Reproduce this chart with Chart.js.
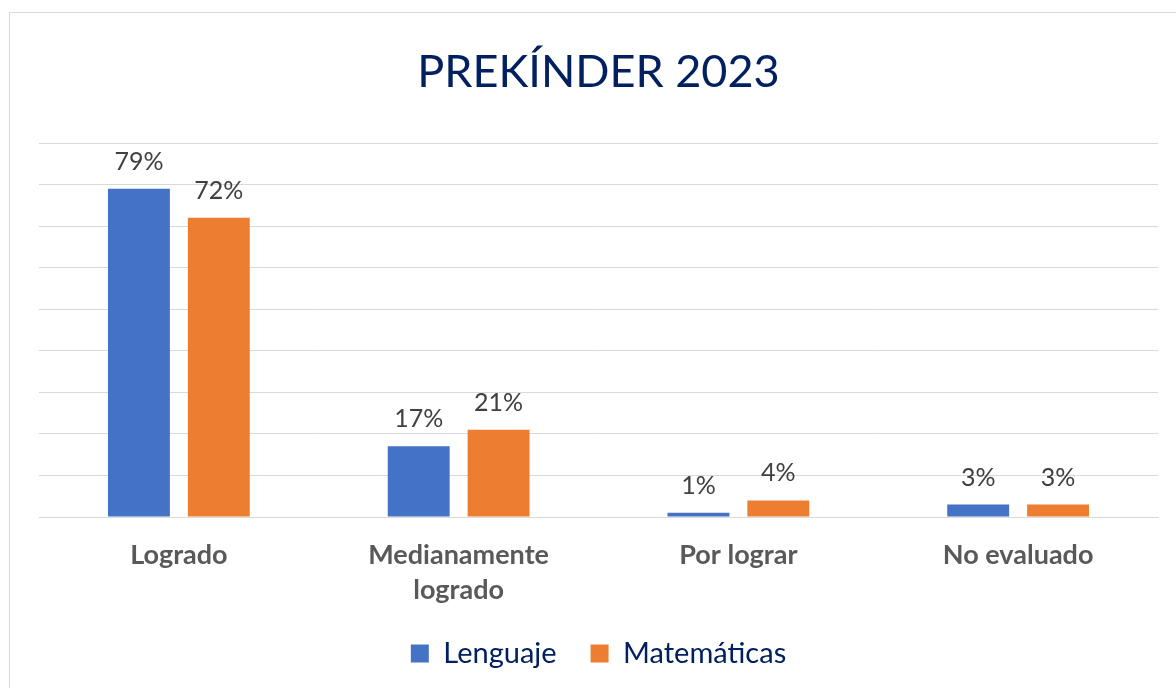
<!DOCTYPE html>
<html>
<head>
<meta charset="utf-8">
<script src="https://cdn.jsdelivr.net/npm/chart.js@4"></script>
<style>
  html, body { margin: 0; padding: 0; background: #fff; }
  #wrap { width: 1176px; height: 688px; }
</style>
</head>
<body>
<div id="wrap"><canvas id="barChart"></canvas></div>
<script>
const categories = [['Logrado'], ['Medianamente', 'logrado'], ['Por lograr'], ['No evaluado']];
const lenguaje = [79, 17, 1, 3];
const matematicas = [72, 21, 4, 3];
const yTicks = [0, 10, 20, 30, 40, 50, 60, 70, 80, 90];

// outer frame like the original chart area border
const frame = {
    id: 'frame',
    beforeDraw(chart) {
        const c = chart.ctx;
        c.save();
        c.strokeStyle = '#d9d9d9';
        c.lineWidth = 1;
        c.strokeRect(9.5, 12.5, 2000, 2000);
        c.restore();
    }
};

// value labels above each bar
const valueLabels = {
    id: 'valueLabels',
    afterDatasetsDraw(chart) {
        const c = chart.ctx;
        c.save();
        c.font = '25px Lato';
        c.fillStyle = '#404040';
        c.textAlign = 'center';
        c.textBaseline = 'alphabetic';
        chart.data.datasets.forEach((ds, i) => {
            chart.getDatasetMeta(i).data.forEach((bar, j) => {
                c.fillText(ds.data[j] + '%', bar.x, bar.y - 19);
            });
        });
        c.restore();
    }
};

const ctx = document.getElementById('barChart');

new Chart(ctx, {
    type: 'bar',
    data: {
        labels: categories,
        datasets: [{
            label: 'Lenguaje',
            data: lenguaje,
            backgroundColor: '#4472c4',
            categoryPercentage: 0.571,
            barPercentage: 0.775
        }, {
            label: 'Matemáticas',
            data: matematicas,
            backgroundColor: '#ed7d31',
            categoryPercentage: 0.571,
            barPercentage: 0.775
        }]
    },
    options: {
        responsive: true,
        maintainAspectRatio: false,
        animation: false,
        layout: {
            padding: { left: 39, right: 18, top: 0, bottom: 10 }
        },
        plugins: {
            title: {
                display: true,
                text: 'PREKÍNDER 2023',
                color: '#002060',
                font: { family: 'Lato', size: 45, weight: 'normal', lineHeight: 1.2 },
                padding: { top: 45, bottom: 44 }
            },
            legend: {
                position: 'bottom',
                labels: {
                    color: '#002060',
                    font: { family: 'Lato', size: 29 },
                    boxWidth: 18,
                    boxHeight: 18,
                    padding: 34
                }
            },
            tooltip: { enabled: false }
        },
        scales: {
            x: {
                grid: { display: false, drawTicks: false },
                border: { color: '#d9d9d9' },
                afterFit(axis) {
                    axis.height = 88;
                },
                ticks: {
                    color: '#595959',
                    font: { family: 'Lato', size: 27, weight: 'bold', lineHeight: 1.3 },
                    padding: 21,
                    maxRotation: 0
                }
            },
            y: {
                min: yTicks[0],
                max: yTicks[yTicks.length - 1],
                afterBuildTicks(axis) {
                    axis.ticks = yTicks.map(v => ({ value: v }));
                },
                grid: { color: '#d9d9d9', drawTicks: false },
                border: { display: false },
                ticks: { display: false }
            }
        }
    },
    plugins: [frame, valueLabels]
});
</script>
</body>
</html>
